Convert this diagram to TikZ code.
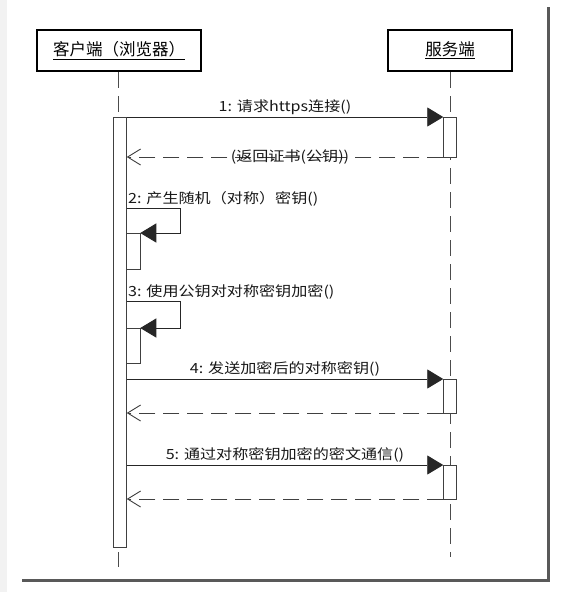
\documentclass[tikz,border=0pt]{standalone}
\usepackage{fontspec}
\newfontfamily\cjk{Noto Sans CJK SC}
\newfontfamily\cjkmsg[FakeStretch=1.15]{Noto Sans CJK SC}
\usepackage{tikz}
\usetikzlibrary{arrows.meta,positioning,calc}
\usepackage{xcolor}
\definecolor{shadowgray}{gray}{0.35}
\definecolor{stripgray}{gray}{0.95}

\begin{document}
\begin{tikzpicture}[x=1pt, y=-1pt,
  obj/.style={draw, line width=2pt, minimum height=41pt, inner sep=0pt, font=\cjk\fontsize{16.5}{18}\selectfont},
  bar/.style={draw=black!75, fill=white, line width=0.8pt, minimum width=13.5pt, inner sep=0pt, outer sep=0pt},
  life/.style={draw=black!70, line width=0.8pt, dash pattern=on 16pt off 8pt},
  msg/.style={-{Triangle[length=16pt,width=19pt]}, line width=0.9pt, draw=black!85},
  ret/.style={-{Straight Barb[length=13pt,width=16pt]}, line width=0.9pt, draw=black!75, dash pattern=on 16pt off 8pt},
  lbl/.style={font=\cjkmsg\fontsize{14}{16}\selectfont, inner sep=2pt, text=black!90}
]
\useasboundingbox (0,0) rectangle (584,592);
\fill[white] (0,0) rectangle (584,592);
\fill[stripgray] (0,0) rectangle (7,592);
\draw[shadowgray, line width=3pt] (22,580) -- (548,580) -- (548,7);

% objects and lifelines
\node[obj, minimum width=164pt] (client) at (119,50.5) {\underline{客户端（浏览器）}};
\node[obj, minimum width=124pt] (server) at (450,50.5) {\underline{服务端}};
\coordinate (cend) at (118,567);
\coordinate (send) at (450,557);
\draw[life] (client.south -| cend) -- (cend);
\draw[life] (server.south) -- (send);

% activations
\node[bar, minimum height=430pt, anchor=north] (cbar) at (120,117) {};
\node[bar, minimum height=40pt, anchor=north] (sbar1) at (450,117) {};
\node[bar, minimum height=34pt, anchor=north] (sbar2) at (450,379) {};
\node[bar, minimum height=34pt, anchor=north] (sbar3) at (450,465) {};
\node[bar, minimum height=36pt, anchor=north west] (nest2) at (cbar.east |- 0,233) {};
\node[bar, minimum height=35pt, anchor=north west] (nest3) at (cbar.east |- 0,328) {};
\coordinate (loop2) at (180,208);
\coordinate (loop3) at (180,301);

% messages
\draw[msg] (cbar.east |- sbar1.north) -- node[lbl, above] {1: 请求https连接()} (sbar1.north west);
\draw[ret] (sbar1.south west) -- node[lbl, xshift=5pt] {(返回证书(公钥))} (cbar.east |- sbar1.south);
\draw[msg] (cbar.east |- loop2) node[lbl, above right, inner sep=1pt] {2: 产生随机（对称）密钥()} -- (loop2) |- (nest2.north east);
\draw[msg] (cbar.east |- loop3) node[lbl, above right, inner sep=1pt] {3: 使用公钥对对称密钥加密()} -- (loop3) |- (nest3.north east);
\draw[msg] (cbar.east |- sbar2.north) -- node[lbl, above] {4: 发送加密后的对称密钥()} (sbar2.north west);
\draw[ret] (sbar2.south west) -- (cbar.east |- sbar2.south);
\draw[msg] (cbar.east |- sbar3.north) -- node[lbl, above] {5: 通过对称密钥加密的密文通信()} (sbar3.north west);
\draw[ret] (sbar3.south west) -- (cbar.east |- sbar3.south);
\end{tikzpicture}
\end{document}
